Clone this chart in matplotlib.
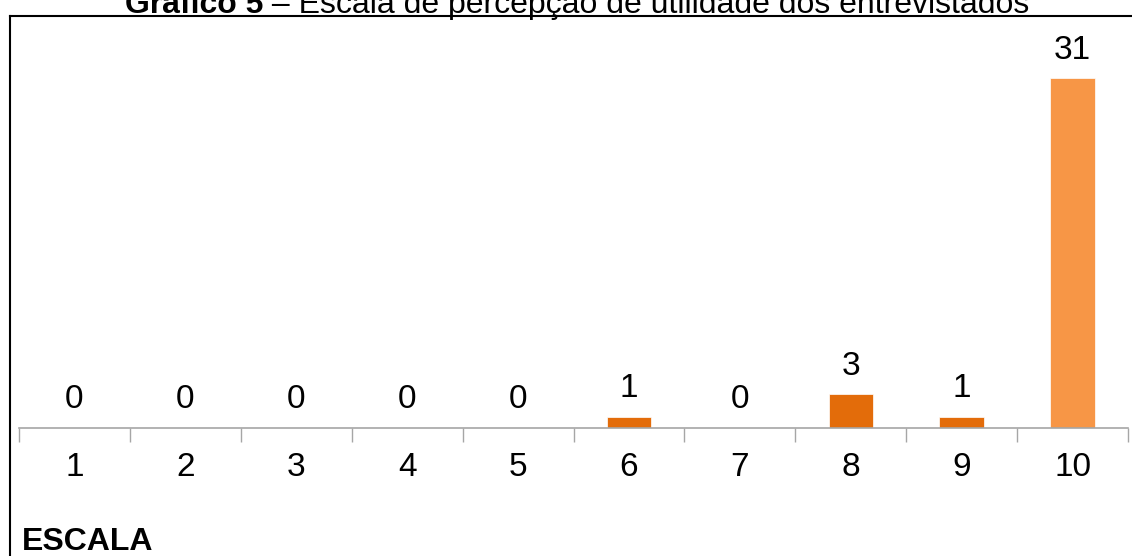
import matplotlib.pyplot as plt
from matplotlib.lines import Line2D

# data
escala = ['1', '2', '3', '4', '5', '6', '7', '8', '9', '10']
respostas = [0, 0, 0, 0, 0, 1, 0, 3, 1, 31]
cores = ['#E36C0A'] * 9 + ['#F79646']

plt.rcParams['font.family'] = ['Liberation Sans', 'DejaVu Sans']
plt.rcParams['font.size'] = 24

fig = plt.figure(figsize=(11.32, 5.56), dpi=100)
ax = fig.add_axes([19 / 1132, 128 / 556, 1109 / 1132, 395 / 556])

pos = range(len(escala))
bars = ax.bar(pos, respostas, width=0.4, color=cores, edgecolor='white', linewidth=0.5)
for b, v in zip(bars, respostas):
    ax.annotate(str(v), (b.get_x() + b.get_width() / 2, v), xytext=(0, 9),
                textcoords='offset points', ha='center', va='bottom', fontsize=24)

ax.set_xlim(-0.5, len(escala) - 0.5)
ax.set_ylim(0, 35)
ax.set_xticks([p - 0.5 for p in range(len(escala) + 1)], minor=False)
ax.set_xticklabels([])
ax.set_xticks(list(pos), minor=True)
ax.set_xticklabels(escala, minor=True)
ax.tick_params(axis='x', which='major', length=10, color='#A6A6A6', width=1)
ax.tick_params(axis='x', which='minor', length=0, pad=17, labelsize=24)
ax.set_yticks([])
for s in ['top', 'right', 'left']:
    ax.spines[s].set_visible(False)
ax.spines['bottom'].set_color('#A6A6A6')
ax.spines['bottom'].set_linewidth(1.2)

fig.text(22 / 1132, (556 - 550) / 556, 'ESCALA', fontsize=23, fontweight='bold',
         ha='left', va='baseline')

# title, clipped at the top as in the source
ty = (556 - 13) / 556
t1 = fig.text(125 / 1132, ty, 'Gráfico 5', fontsize=23, fontweight='bold',
              ha='left', va='baseline')
fig.canvas.draw()
bb = t1.get_window_extent()
fig.text(bb.x1 / fig.bbox.width, ty, ' – Escala de percepção de utilidade dos entrevistados',
         fontsize=23, ha='left', va='baseline')

# frame around the chart
x0 = 9.5 / 1132
y0 = (556 - 16) / 556
fig.add_artist(Line2D([x0, x0], [0, y0], color='black', linewidth=1.5, transform=fig.transFigure))
fig.add_artist(Line2D([x0, 1], [y0, y0], color='black', linewidth=1.5, transform=fig.transFigure))

fig.savefig('out.png', dpi=100)
